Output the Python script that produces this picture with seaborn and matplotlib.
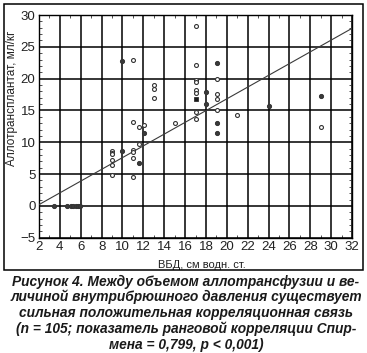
import numpy as np
import pandas as pd
import matplotlib
matplotlib.use("Agg")
import matplotlib.pyplot as plt
from matplotlib.ticker import MultipleLocator
from matplotlib.patches import Rectangle
import seaborn as sns

# ---- data ----
open_x = [11.0, 13.05, 13.05, 13.05, 17.05, 17.05, 17.05, 17.05, 17.05, 17.05, 17.05, 17.05,
          19.05, 19.05, 19.05, 19.05, 21.0, 29.0, 11.05, 11.6, 12.1, 15.05, 11.6,
          9.03, 9.03, 9.03, 9.03, 9.03, 9.03, 11.05, 11.05, 11.05, 11.05]
open_y = [22.9, 19.0, 18.4, 16.9, 28.3, 22.2, 19.8, 19.4, 18.2, 17.7, 14.7, 13.7,
          19.9, 17.6, 16.75, 15.0, 14.3, 12.4, 13.2, 12.4, 12.7, 13.1, 9.8,
          8.6, 8.3, 8.1, 7.2, 6.4, 4.9, 8.8, 8.4, 7.5, 4.6]
filled_x = [10.0, 10.0, 11.6, 12.1, 18.0, 18.0, 19.05, 19.05, 19.05, 24.05, 29.0,
            3.44, 4.7, 5.1, 5.3, 5.5, 5.7, 5.9]
filled_y = [22.8, 8.7, 6.7, 11.4, 17.85, 16.0, 22.4, 13.0, 11.5, 15.75, 17.3,
            0.0, 0.0, 0.0, 0.0, 0.0, 0.0, 0.0]
square_x = [17.05]
square_y = [16.75]
fit_x = [2, 32]
fit_y = [0.2, 27.9]

x_ticks = list(range(2, 33, 2))
y_ticks = [-5, 0, 5, 10, 15, 20, 25, 30]
x_label = "ВБД, см водн. ст."
y_label = "Аллотрансплантат, мл/кг"
caption_lines = [
    "Рисунок 4. Между объемом аллотрансфузии и ве-",
    "личиной внутрибрюшного давления существует",
    "сильная положительная корреляционная связь",
    "(n = 105; показатель ранговой корреляции Спир-",
    "мена = 0,799, p < 0,001)",
]

sns.set_style("white")
plt.rcParams['font.family'] = ['Liberation Sans Narrow', 'Liberation Sans', 'DejaVu Sans']

fig = plt.figure(figsize=(3.67, 3.53), dpi=100)
W, H = 367, 353
ax = fig.add_axes([39 / W, 1 - 237.7 / H, (352 - 39) / W, (237.7 - 15) / H])

df_open = pd.DataFrame({"x": open_x, "y": open_y})
df_fill = pd.DataFrame({"x": filled_x, "y": filled_y})
df_sq = pd.DataFrame({"x": square_x, "y": square_y})
df_fit = pd.DataFrame({"x": fit_x, "y": fit_y})

sns.lineplot(data=df_fit, x="x", y="y", ax=ax, color="#3a3a3a", lw=0.8, zorder=3)
sns.scatterplot(data=df_open, x="x", y="y", ax=ax, marker="o", s=8,
                facecolor="white", edgecolor="#333333", linewidth=0.8, zorder=4)
sns.scatterplot(data=df_fill, x="x", y="y", ax=ax, marker="o", s=9,
                facecolor="#3a3a3a", edgecolor="#333333", linewidth=0.7, zorder=4)
sns.scatterplot(data=df_sq, x="x", y="y", ax=ax, marker="s", s=10,
                facecolor="#1a1a1a", edgecolor="#1a1a1a", linewidth=0.5, zorder=4)

ax.set_xlim(2, 32)
ax.set_ylim(-5, 30)
ax.set_xticks(x_ticks)
ax.set_yticks(y_ticks)
ax.set_yticklabels([str(v).replace("-", "\u2212") for v in y_ticks])
ax.xaxis.set_minor_locator(MultipleLocator(1))
ax.yaxis.set_minor_locator(MultipleLocator(1))
ax.grid(True, which="major", color="black", lw=1.1)
ax.set_axisbelow(True)
ax.tick_params(which="major", direction="in", length=0, labelsize=9.5,
               labelcolor="#222222", pad=2.5)
ax.tick_params(which="minor", direction="in", length=2.5, width=0.6,
               top=True, right=True, bottom=True, left=True, color="#333333")
for sp in ax.spines.values():
    sp.set_color("black")
    sp.set_linewidth(1.0)

ax.set_xlabel(x_label, fontsize=8, color="#222222")
ax.set_ylabel(y_label, fontsize=8.5, color="#222222")
ax.xaxis.set_label_coords(0.52, -0.10)
ax.yaxis.set_label_coords(-0.068, 0.625)

# outer frame
fig.add_artist(Rectangle((4 / W, 1 - 270 / H), (362.5 - 4) / W, (270 - 4) / H,
                         transform=fig.transFigure, fill=False, edgecolor="black",
                         lw=1.1))

cap_y = [281.7, 296.9, 312.8, 329.2, 345.0]
for line, yp in zip(caption_lines, cap_y):
    fig.text(186 / W, 1 - yp / H, line, ha="center", va="center",
             fontsize=9.9, fontweight="bold", fontstyle="italic",
             family=["Liberation Sans", "DejaVu Sans"], color="#1a1a1a")

fig.savefig("out.png", dpi=100)
